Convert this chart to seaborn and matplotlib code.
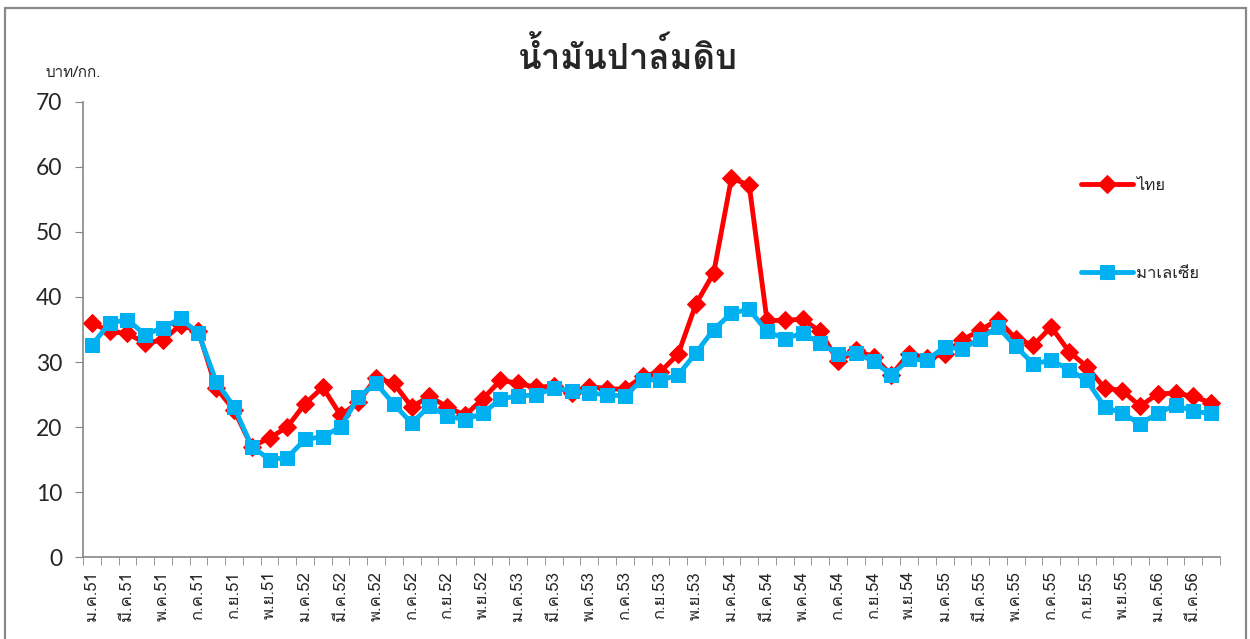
import pandas as pd
import matplotlib
matplotlib.use("Agg")
import matplotlib.pyplot as plt
import seaborn as sns
from matplotlib.patches import Rectangle

# Data (baht/kg), monthly Jan 2008 (ม.ค.51) - Apr 2013 (เม.ย.56)
months = ["ม.ค.", "ก.พ.", "มี.ค.", "เม.ย.", "พ.ค.", "มิ.ย.",
          "ก.ค.", "ส.ค.", "ก.ย.", "ต.ค.", "พ.ย.", "ธ.ค."]
years = ["51", "52", "53", "54", "55", "56"]
n_points = 64

thai = [36.0, 34.7, 34.4, 32.9, 33.4, 35.7, 34.7, 26.0, 22.6, 17.0,
        18.3, 20.0, 23.6, 26.1, 21.8, 23.8, 27.6, 26.7, 23.1, 24.7,
        23.1, 21.8, 24.3, 27.2, 26.7, 26.1, 26.3, 25.2, 26.2, 25.9,
        25.8, 27.8, 28.5, 31.2, 38.9, 43.7, 58.3, 57.2, 36.4, 36.4,
        36.6, 34.7, 30.1, 31.8, 30.8, 28.0, 31.3, 30.6, 31.3, 33.4,
        34.9, 36.5, 33.6, 32.6, 35.4, 31.6, 29.3, 26.0, 25.6, 23.2,
        25.1, 25.2, 24.7, 23.7]
malaysia = [32.6, 36.0, 36.5, 34.2, 35.3, 36.7, 34.4, 27.0, 23.1, 17.0,
            15.0, 15.3, 18.1, 18.5, 20.0, 24.6, 26.7, 23.5, 20.6, 23.2,
            21.7, 21.1, 22.1, 24.3, 24.8, 24.9, 26.0, 25.6, 25.3, 24.9,
            24.8, 27.3, 27.2, 28.0, 31.4, 35.0, 37.5, 38.1, 34.7, 33.6,
            34.4, 32.9, 31.2, 31.4, 30.1, 28.0, 30.4, 30.3, 32.3, 32.0,
            33.6, 35.4, 32.4, 29.7, 30.3, 28.8, 27.2, 23.1, 22.1, 20.5,
            22.1, 23.4, 22.4, 22.1]

categories = [m + y for y in years for m in months][:n_points]

df = pd.DataFrame({"idx": range(n_points), "thai": thai, "malaysia": malaysia})

sns.set_style("white")
plt.rcParams["font.family"] = ["Loma", "DejaVu Sans"]

fig = plt.figure(figsize=(12.5, 6.39), dpi=100)
ax = fig.add_axes([0.0664, 0.1283, 0.9096, 0.7121])

sns.lineplot(data=df, x="idx", y="thai", ax=ax, color="#FF0000",
             linewidth=3.5, marker="D", markersize=9,
             markeredgecolor="#FF0000", label="ไทย")
sns.lineplot(data=df, x="idx", y="malaysia", ax=ax, color="#00B0F0",
             linewidth=3.5, marker="s", markersize=9.5,
             markeredgecolor="#00B0F0", label="มาเลเซีย")

ax.set_xlim(-0.5, n_points - 0.5)
ax.set_ylim(0, 70)
ax.set_yticks(range(0, 71, 10))
ax.tick_params(axis="y", length=6, color="#868686", left=True, pad=9)
for lbl in ax.get_yticklabels():
    lbl.set_fontfamily(["Lato", "DejaVu Sans"])
    lbl.set_fontsize(16.5)

ax.set_xticks(range(0, n_points, 2))
ax.set_xticklabels(categories[::2], rotation=90, fontsize=12)
ax.set_xticks([i - 0.5 for i in range(n_points + 1)], minor=True)
ax.tick_params(axis="x", which="major", length=0, pad=10)
ax.tick_params(axis="x", which="minor", length=6, color="#868686",
               bottom=True)

for side in ["top", "right"]:
    ax.spines[side].set_visible(False)
for side in ["left", "bottom"]:
    ax.spines[side].set_color("#868686")
    ax.spines[side].set_linewidth(1.2)

ax.set_xlabel("")
ax.set_ylabel("")
ax.grid(False)

fig.text(0.502, 0.913, "น้ำมันปาล์มดิบ", ha="center", va="center",
         fontsize=25, fontweight="bold")
fig.text(0.036, 0.886, "บาท/กก.", ha="left", va="center", fontsize=11)

ax.legend(loc="upper left", bbox_to_anchor=(0.853, 0.745),
          bbox_transform=fig.transFigure, frameon=False, fontsize=12,
          handlelength=3.1, labelspacing=4.3, handletextpad=0.2)

# outer chart border
fig.patches.append(Rectangle((0.004, -0.02), 0.993, 1.0075,
                             transform=fig.transFigure, fill=False,
                             edgecolor="#898989", linewidth=1.6))

fig.savefig("out.png", dpi=100)
